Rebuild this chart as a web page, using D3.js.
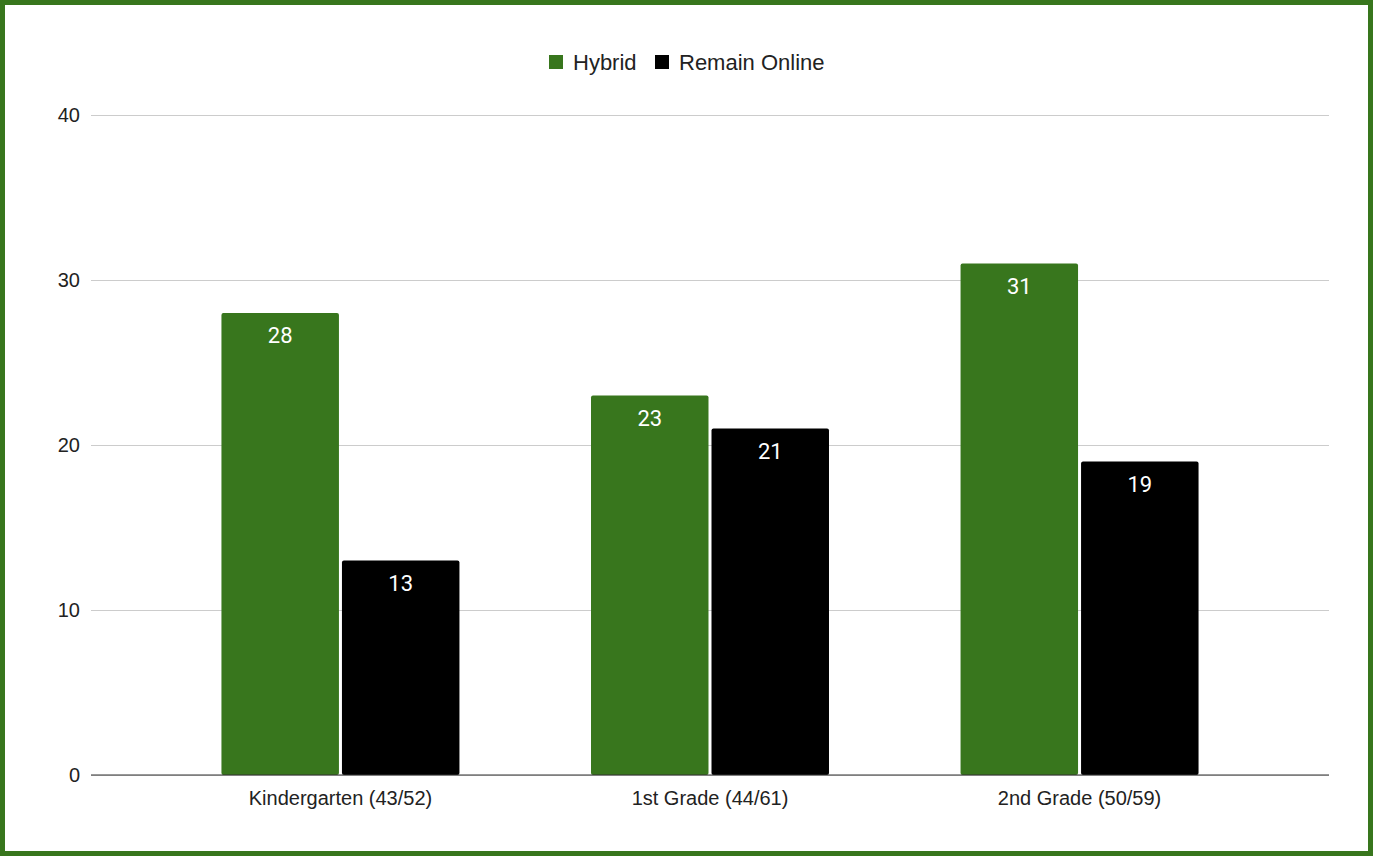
<!DOCTYPE html>
<html lang="en">
<head>
    <meta charset="UTF-8">
    <title>Hybrid vs Remain Online</title>
    <script src="https://d3js.org/d3.v7.min.js"></script>
    <style>
        body{
            margin: 0;
            background-color: white;
        }
        svg{
            display: block;
        }
    </style>
</head>
<body>
<svg></svg>
<script>
    const width = 1373;
    const height = 856;

    // data
    const categories = ['Kindergarten (43/52)', '1st Grade (44/61)', '2nd Grade (50/59)'];
    const seriesNames = ['Hybrid', 'Remain Online'];
    const hybrid = [28, 23, 31];
    const remainOnline = [13, 21, 19];
    const yTicks = [0, 10, 20, 30, 40];

    const colors = ['#38761d', '#000000'];
    const margin = {top: 115, right: 44, bottom: 81, left: 91};
    const labelFont = 'Arial, "Liberation Sans", sans-serif';

    const svg = d3.select('svg')
        .attr('width', width)
        .attr('height', height);

    /* green frame round the whole picture */
    svg.append('rect')
        .attr('x', 2.5).attr('y', 2.5)
        .attr('width', width - 5).attr('height', height - 5)
        .attr('fill', 'white')
        .attr('stroke', '#38761d')
        .attr('stroke-width', 5);

    const x0 = d3.scaleBand()
        .domain(categories)
        .range([margin.left, width - margin.right])
        .paddingInner(0.356)
        .paddingOuter(0.353);

    const x1 = d3.scaleBand()
        .domain(seriesNames)
        .range([0, x0.bandwidth()])
        .paddingInner(0.025);

    const y = d3.scaleLinear()
        .domain([0, 40])
        .range([height - margin.bottom, margin.top]);

    /* gridlines */
    svg.append('g')
        .attr('transform', `translate(${margin.left},0)`)
        .call(d3.axisLeft(y).tickValues(yTicks).tickSize(-(width - margin.left - margin.right)).tickFormat(''))
        .call(g => g.select('.domain').remove())
        .call(g => g.selectAll('line').attr('stroke', '#cccccc').attr('stroke-width', 1));

    /* y tick labels */
    svg.append('g')
        .attr('transform', `translate(${margin.left},0)`)
        .call(d3.axisLeft(y).tickValues(yTicks).tickSize(0).tickPadding(11))
        .call(g => g.select('.domain').remove())
        .call(g => g.selectAll('text')
            .attr('font-family', labelFont)
            .attr('font-size', 20)
            .attr('fill', '#222'));

    const rows = categories.map((c, i) => ({cat: c, values: [hybrid[i], remainOnline[i]]}));

    const groups = svg.append('g').selectAll('g')
        .data(rows)
        .join('g')
        .attr('transform', d => `translate(${x0(d.cat)},0)`);

    groups.selectAll('rect')
        .data(d => d.values.map((v, j) => ({key: seriesNames[j], value: v, j: j})))
        .join('rect')
        .attr('x', d => x1(d.key))
        .attr('y', d => y(d.value))
        .attr('width', x1.bandwidth())
        .attr('height', d => y(0) - y(d.value))
        .attr('rx', 2)
        .attr('fill', d => colors[d.j]);

    groups.selectAll('text.val')
        .data(d => d.values.map((v, j) => ({key: seriesNames[j], value: v})))
        .join('text')
        .attr('class', 'val')
        .attr('x', d => x1(d.key) + x1.bandwidth() / 2)
        .attr('y', d => y(d.value) + 30)
        .attr('text-anchor', 'middle')
        .attr('font-family', 'Roboto, sans-serif')
        .attr('font-size', 22)
        .attr('fill', 'white')
        .text(d => d.value);

    /* baseline */
    svg.append('line')
        .attr('x1', margin.left).attr('x2', width - margin.right)
        .attr('y1', y(0)).attr('y2', y(0))
        .attr('stroke', '#333333')
        .attr('stroke-width', 1.2);

    /* category labels */
    svg.append('g')
        .attr('transform', `translate(0,${y(0)})`)
        .call(d3.axisBottom(x0).tickSize(0).tickPadding(16))
        .call(g => g.select('.domain').remove())
        .call(g => g.selectAll('text')
            .attr('font-family', labelFont)
            .attr('font-size', 20)
            .attr('fill', '#222'));

    /* legend */
    const legend = svg.append('g').attr('transform', 'translate(549,62)');
    const legendX = [0, 106];
    seriesNames.forEach((name, i) => {
        legend.append('rect')
            .attr('x', legendX[i]).attr('y', -7)
            .attr('width', 14).attr('height', 14)
            .attr('fill', colors[i]);
        legend.append('text')
            .attr('x', legendX[i] + 24).attr('y', 8)
            .attr('font-family', labelFont)
            .attr('font-size', 22)
            .attr('fill', '#222')
            .text(name);
    });
</script>
</body>
</html>
